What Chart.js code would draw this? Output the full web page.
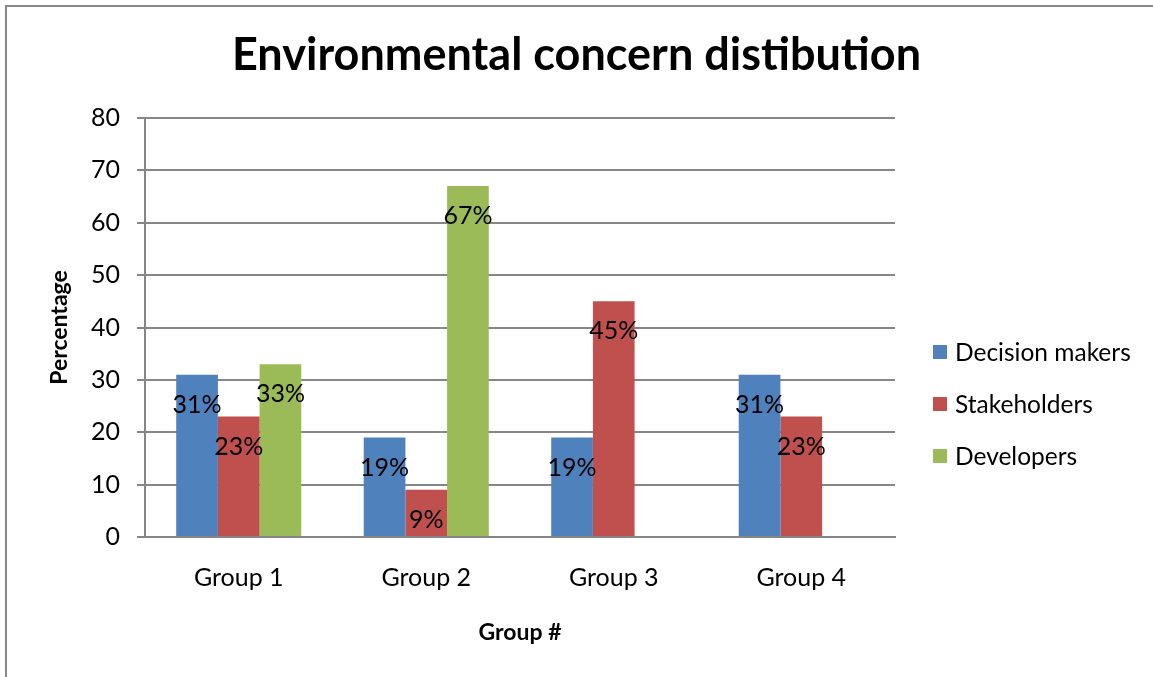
<!DOCTYPE html>
<html>
<head>
<meta charset="utf-8">
<title>Environmental concern distibution</title>
<script src="https://cdn.jsdelivr.net/npm/chart.js@4.4.1/dist/chart.umd.min.js"></script>
<style>
    html, body { margin: 0; padding: 0; background: #fff; }
    #wrap { position: relative; width: 1153px; height: 677px; }
    #frame {
        position: absolute; left: 5px; top: 5px; right: -10px; bottom: -10px;
        border-left: 2px solid #888; border-top: 2px solid #888;
        pointer-events: none;
    }
</style>
</head>
<body>
<div id="wrap">
    <canvas id="chart" width="1153" height="677"></canvas>
    <div id="frame"></div>
</div>
<script>
const categories = ['Group 1', 'Group 2', 'Group 3', 'Group 4'];
const seriesNames = ['Decision makers', 'Stakeholders', 'Developers'];
const decisionMakers = [31, 19, 19, 31];
const stakeholders = [23, 9, 45, 23];
const developers = [33, 67, null, null];
const yTicks = [0, 10, 20, 30, 40, 50, 60, 70, 80];
const colors = ['#4F81BD', '#C0504D', '#9BBB59'];

const FONT = 'Lato, "Open Sans", sans-serif';
const GRID = '#868686';

// value labels inside the top of each bar, "31%"
const barLabels = {
    id: 'barLabels',
    afterDatasetsDraw(chart) {
        const ctx = chart.ctx;
        ctx.save();
        ctx.font = '25px ' + FONT;
        ctx.fillStyle = '#000';
        ctx.textAlign = 'center';
        ctx.textBaseline = 'middle';
        chart.data.datasets.forEach((ds, i) => {
            const meta = chart.getDatasetMeta(i);
            meta.data.forEach((bar, j) => {
                const v = ds.data[j];
                if (v === null || v === undefined) return;
                ctx.fillText(v + '%', bar.x, bar.y + 30);
            });
        });
        ctx.restore();
    },
};

// legend on the right, drawn like the Excel one
const sideLegend = {
    id: 'sideLegend',
    afterDraw(chart) {
        const ctx = chart.ctx;
        const x = chart.chartArea.right + 38;
        const y0 = 352;
        ctx.save();
        ctx.font = '24.5px ' + FONT;
        ctx.textBaseline = 'middle';
        ctx.textAlign = 'left';
        chart.data.datasets.forEach((ds, i) => {
            const y = y0 + i * 52;
            ctx.fillStyle = ds.backgroundColor;
            ctx.fillRect(x, y - 7, 14, 14);
            ctx.fillStyle = '#000';
            ctx.fillText(ds.label, x + 22, y + 1);
        });
        ctx.restore();
    },
};

const datasets = [decisionMakers, stakeholders, developers].map((data, i) => ({
    label: seriesNames[i],
    data,
    backgroundColor: colors[i],
    borderWidth: 0,
    categoryPercentage: 0.667,
    barPercentage: 1.0,
}));

new Chart(document.getElementById('chart'), {
    type: 'bar',
    data: { labels: categories, datasets },
    plugins: [barLabels, sideLegend],
    options: {
        responsive: false,
        animation: false,
        layout: { padding: { top: 10, left: 30, right: 30, bottom: 0 } },
        plugins: {
            legend: { display: false },
            tooltip: { enabled: false },
            title: {
                display: true,
                text: 'Environmental concern distibution',
                color: '#000',
                font: { family: FONT, size: 45, weight: 'bold' },
                padding: { top: 18, bottom: 36 },
            },
        },
        scales: {
            x: {
                afterFit: (s) => { s.height = 140; },
                grid: { display: false },
                border: { display: true, color: GRID, width: 2 },
                ticks: { color: '#000', font: { family: FONT, size: 25 }, padding: 18 },
                title: {
                    display: true,
                    text: 'Group #',
                    color: '#000',
                    font: { family: FONT, size: 23, weight: 'bold' },
                    padding: { top: 0, bottom: 31 },
                },
            },
            y: {
                min: 0,
                max: 80,
                afterFit: (s) => { s.width = 115; },
                afterBuildTicks: (s) => { s.ticks = yTicks.map((v) => ({ value: v })); },
                grid: { color: GRID, lineWidth: 2, tickLength: 8 },
                border: { display: true, color: GRID, width: 2 },
                ticks: { color: '#000', font: { family: FONT, size: 25 }, padding: 17 },
                title: {
                    display: true,
                    text: 'Percentage',
                    color: '#000',
                    font: { family: FONT, size: 23, weight: 'bold' },
                    padding: { top: 16, bottom: 0 },
                },
            },
            // empty right-hand box that keeps room for the legend
            side: {
                type: 'linear',
                position: 'right',
                display: true,
                afterFit: (s) => { s.width = 228; },
                grid: { display: false },
                border: { display: false },
                ticks: { display: false },
            },
        },
    },
});
</script>
</body>
</html>
